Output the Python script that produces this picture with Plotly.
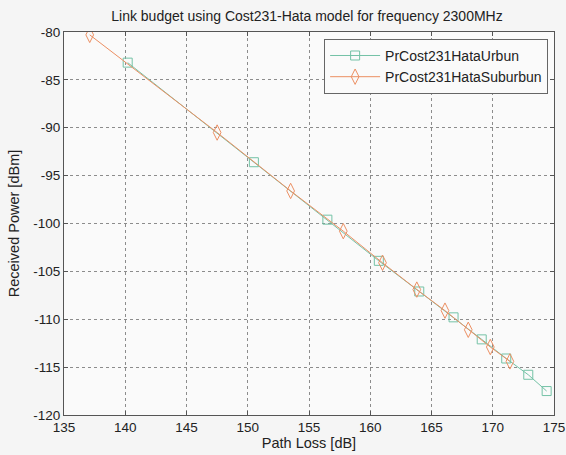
import plotly.graph_objects as go

urban_pl = [140.2, 150.5, 156.5, 160.7, 164.0, 166.8, 169.1, 171.1, 172.9, 174.4]
urban_pr = [-83.2, -93.6, -99.6, -103.9, -107.1, -109.8, -112.1, -114.1, -115.8, -117.5]
sub_pl = [137.1, 147.5, 153.5, 157.8, 161.0, 163.8, 166.1, 168.0, 169.8, 171.4]
sub_pr = [-80.3, -90.5, -96.6, -100.8, -104.1, -106.9, -109.1, -111.1, -112.9, -114.4]

x_ticks = [135, 140, 145, 150, 155, 160, 165, 170, 175]
y_ticks = [-120, -115, -110, -105, -100, -95, -90, -85, -80]
y_labels = ["-120", "-115", "-110", "-105", "-100", "-95", "-90", "-85", "-80"]

green = "#74c2a6"
orange = "#ec8f62"
FONT = "Liberation Sans, Arial"
BG = "#f5f5f5"

fig = go.Figure()
fig.add_trace(go.Scatter(
    x=urban_pl, y=urban_pr, mode="lines+markers", name="PrCost231HataUrbun",
    line=dict(color=green, width=1),
    marker=dict(symbol="square-open", size=9, color=green, line=dict(width=1)),
))
fig.add_trace(go.Scatter(
    x=sub_pl, y=sub_pr, mode="lines+markers", name="PrCost231HataSuburbun",
    line=dict(color=orange, width=1),
    marker=dict(symbol="diamond-tall-open", size=11, color=orange, line=dict(width=1)),
))

axis_common = dict(
    showgrid=True, gridcolor="#8c8c8c", griddash="dot", gridwidth=1,
    showline=True, linecolor="#555555", linewidth=1, mirror="ticks",
    ticks="inside", ticklen=4, tickcolor="#555555", automargin=False,
    zeroline=False, tickfont=dict(family=FONT, size=13.5, color="#222222"),
)

fig.update_layout(
    width=566, height=455,
    margin=dict(l=64, r=12, t=32, b=40, autoexpand=False),
    paper_bgcolor=BG, plot_bgcolor="#fafafa",
    title=dict(text="Link budget using Cost231-Hata model for frequency 2300MHz",
               x=307 / 566, xanchor="center", y=1 - 16 / 455, yanchor="middle",
               font=dict(family=FONT, size=14, color="#222222")),
    xaxis=dict(range=[135, 175], tickvals=x_ticks,
               title=dict(text="Path Loss [dB]", standoff=3,
                          font=dict(family=FONT, size=14.5, color="#222222")),
               **axis_common),
    yaxis=dict(range=[-120, -80], tickvals=y_ticks, ticktext=y_labels,
               title=dict(text="Received Power [dBm]", standoff=10,
                          font=dict(family=FONT, size=14.5, color="#222222")),
               **axis_common),
    legend=dict(x=0.988, y=0.982, xanchor="right", yanchor="top",
                bgcolor="#fafafa", bordercolor="#666666", borderwidth=1,
                font=dict(family=FONT, size=14, color="#222222"),
                tracegroupgap=0, itemwidth=50),
    showlegend=True,
)

fig.write_html(
    "out.html",
    config={"displayModeBar": False},
    post_script="document.body.style.margin='0';document.body.style.background='%s';" % BG,
)
